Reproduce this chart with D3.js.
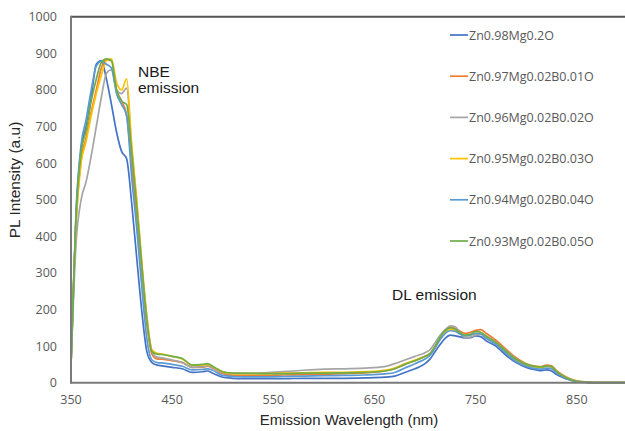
<!DOCTYPE html>
<html>
<head>
<meta charset="utf-8">
<script src="https://cdn.jsdelivr.net/npm/d3@7"></script>
<style>
  body { margin: 0; background: #fff; }
  svg { display: block; }
</style>
</head>
<body>
<div id="chart"></div>
<script>
// wavelengths (nm) shared by every series
const wavelengths = [350, 355, 360, 365, 370, 375, 380, 385, 390, 395, 400, 405, 410, 415, 420, 425, 430, 435, 440,
  450, 460, 470, 480, 485, 490, 500, 510, 520,
  540, 560, 580, 600, 620, 640, 660,
  670, 680, 690, 700,
  705, 710, 715, 720, 725, 730, 735, 740, 745, 750, 755, 760,
  770, 780, 790, 800, 810,
  815, 820, 825, 830,
  840, 850, 860, 870, 880, 900, 950];

const zn098 = [50, 460, 640, 700, 780, 870, 880, 830, 760, 685, 632, 612, 490, 340, 195, 85, 55, 48, 46,
  42, 38, 28, 30, 32, 26, 15, 12, 11,
  11, 11, 12, 12, 12, 13, 15,
  18, 28, 38, 52,
  65, 85, 105, 122, 130, 128, 125, 122, 123, 128, 126, 115,
  100, 75, 55, 42, 35,
  33, 35, 32, 22,
  10, 3, 1, 0, 0, 0, 0];

const zn097 = [50, 440, 610, 670, 740, 800, 860, 882, 880, 800, 770, 730, 590, 455, 300, 160, 78, 65, 64,
  60, 55, 42, 42, 45, 40, 25, 20, 20,
  20, 21, 22, 23, 25, 27, 32,
  38, 50, 60, 72,
  80, 100, 125, 145, 152, 148, 140, 135, 138, 143, 145, 136,
  116, 92, 68, 52, 45,
  44, 48, 46, 33,
  15, 5, 2, 1, 0, 0, 0];

const zn096 = [45, 380, 500, 550, 620, 700, 780, 845, 855, 800, 790, 805, 640, 490, 320, 180, 85, 70, 68,
  62, 55, 42, 44, 46, 42, 28, 25, 25,
  27, 30, 34, 37, 38, 40, 44,
  52, 62, 72, 82,
  90, 110, 130, 145, 155, 152, 135, 122, 125, 130, 135, 128,
  110, 88, 65, 50, 43,
  42, 45, 43, 30,
  13, 4, 1, 0, 0, 0, 0];

const zn095 = [50, 430, 600, 660, 730, 790, 840, 880, 885, 820, 800, 830, 650, 500, 330, 180, 90, 80, 78,
  72, 65, 48, 48, 50, 44, 30, 25, 25,
  25, 26, 27, 28, 28, 30, 34,
  40, 52, 62, 72,
  78, 98, 120, 138, 145, 143, 133, 128, 130, 135, 134, 126,
  108, 85, 62, 48, 42,
  41, 45, 43, 30,
  13, 4, 1, 0, 0, 0, 0];

const zn094 = [50, 470, 650, 720, 800, 865, 878, 870, 860, 790, 760, 730, 560, 420, 260, 120, 62, 55, 54,
  50, 45, 35, 36, 38, 34, 20, 17, 16,
  16, 17, 18, 19, 20, 21, 24,
  28, 40, 52, 65,
  75, 95, 118, 135, 142, 140, 132, 128, 130, 135, 133, 122,
  105, 80, 58, 45, 38,
  37, 40, 38, 26,
  11, 3, 1, 0, 0, 0, 0];

const zn093 = [50, 450, 630, 690, 770, 830, 875, 885, 880, 800, 770, 760, 630, 480, 320, 170, 85, 78, 77,
  72, 66, 48, 50, 52, 45, 30, 26, 26,
  25, 25, 26, 26, 27, 28, 32,
  38, 50, 60, 72,
  80, 100, 125, 142, 150, 146, 136, 130, 133, 140, 138, 128,
  110, 86, 64, 50, 44,
  43, 46, 44, 30,
  13, 4, 1, 0, 0, 0, 0];

const seriesNames = ["Zn0.98Mg0.2O", "Zn0.97Mg0.02B0.01O", "Zn0.96Mg0.02B0.02O",
  "Zn0.95Mg0.02B0.03O", "Zn0.94Mg0.02B0.04O", "Zn0.93Mg0.02B0.05O"];
const seriesValues = [zn098, zn097, zn096, zn095, zn094, zn093];
const colors = ["#4472c4", "#ed7d31", "#a5a5a5", "#ffc000", "#5b9bd5", "#70ad47"];

const yTicks = d3.range(0, 1001, 100);
const xTicks = [350, 450, 550, 650, 750, 850];

const width = 625;
const height = 431;

const svg = d3.select("#chart")
  .append("svg")
  .attr("width", width)
  .attr("height", height);

// scales, the right side of the plot is cut off by the picture edge
const x = d3.scaleLinear().domain([350, 950]).range([71, 678]);
const y = d3.scaleLinear().domain([0, 1000]).range([382.7, 16.7]);

const series = seriesNames.map((name, i) => ({
  name: name,
  color: colors[i],
  points: wavelengths.map((w, j) => ({ w: w, v: seriesValues[i][j] }))
}));

// tick labels
svg.append("g")
  .selectAll("text")
  .data(yTicks)
  .enter()
  .append("text")
  .attr("x", 57)
  .attr("y", (d) => y(d) + 4.5)
  .attr("text-anchor", "end")
  .attr("font-family", "Open Sans, sans-serif")
  .attr("font-size", 12.5)
  .attr("fill", "#595959")
  .text((d) => d);

svg.append("g")
  .selectAll("text")
  .data(xTicks)
  .enter()
  .append("text")
  .attr("x", (d) => x(d))
  .attr("y", 404)
  .attr("text-anchor", "middle")
  .attr("font-family", "Open Sans, sans-serif")
  .attr("font-size", 12.5)
  .attr("fill", "#595959")
  .text((d) => d);

// lines
const line = d3.line()
  .x((d) => x(d.w))
  .y((d) => y(d.v))
  .curve(d3.curveMonotoneX);

svg.append("g")
  .selectAll("path")
  .data(series)
  .enter()
  .append("path")
  .attr("d", (d) => line(d.points))
  .attr("fill", "none")
  .attr("stroke", (d) => d.color)
  .attr("stroke-width", 1.7)
  .attr("stroke-linejoin", "round");

// plot frame (left, top, bottom)
const frame = svg.append("g")
  .attr("stroke", "#7a7a7a")
  .attr("stroke-width", 2)
  .attr("fill", "none");
frame.append("line").attr("x1", x(350)).attr("x2", width).attr("y1", y(0)).attr("y2", y(0));
frame.append("line").attr("x1", x(350)).attr("x2", width).attr("y1", y(1000)).attr("y2", y(1000)).attr("stroke", "#555");
frame.append("line").attr("x1", x(350)).attr("x2", x(350)).attr("y1", y(1000) - 1).attr("y2", y(0) + 1);

// axis titles
svg.append("text")
  .attr("x", 349)
  .attr("y", 425)
  .attr("text-anchor", "middle")
  .attr("font-family", "Liberation Sans, Arial, sans-serif")
  .attr("font-size", 15)
  .attr("fill", "#262626")
  .text("Emission Wavelength (nm)");

svg.append("text")
  .attr("transform", "translate(20,180) rotate(-90)")
  .attr("text-anchor", "middle")
  .attr("font-family", "Liberation Sans, Arial, sans-serif")
  .attr("font-size", 15.5)
  .attr("fill", "#262626")
  .text("PL Intensity (a.u)");

// annotations
const note = svg.append("g")
  .attr("font-family", "Liberation Sans, Arial, sans-serif")
  .attr("font-size", 15.5)
  .attr("fill", "#1a1a1a");
note.append("text").attr("x", 138).attr("y", 77).text("NBE");
note.append("text").attr("x", 138).attr("y", 93).text("emission");
note.append("text").attr("x", 392).attr("y", 300).text("DL emission");

// legend
const legend = svg.append("g")
  .selectAll("g")
  .data(series)
  .enter()
  .append("g")
  .attr("transform", (d, i) => "translate(450," + (35 + i * 41.2) + ")");

legend.append("line")
  .attr("x1", 0)
  .attr("x2", 18)
  .attr("stroke", (d) => d.color)
  .attr("stroke-width", 1.7);

legend.append("text")
  .attr("x", 19)
  .attr("y", 4.5)
  .attr("font-family", "Open Sans, sans-serif")
  .attr("font-size", 12.5)
  .attr("fill", "#595959")
  .text((d) => d.name);
</script>
</body>
</html>
